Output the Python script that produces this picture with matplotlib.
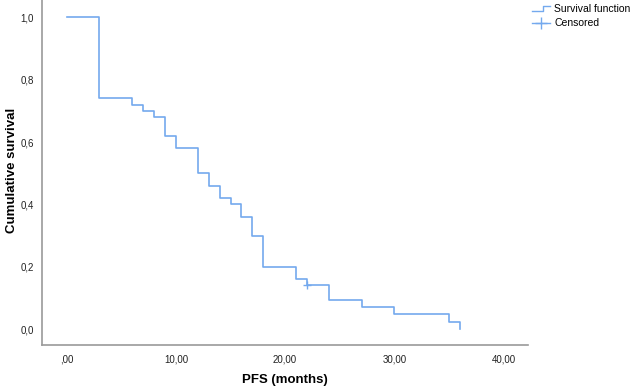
import matplotlib
matplotlib.use("Agg")
import matplotlib.pyplot as plt
from matplotlib.lines import Line2D
from matplotlib.legend_handler import HandlerBase

# Data
times = [0, 3, 6, 7, 8, 9, 10, 12, 13, 14, 15, 16, 17, 18, 21, 22, 24, 27, 30, 35, 36]
surv = [1.0, 0.74, 0.72, 0.70, 0.68, 0.62, 0.58, 0.50, 0.46, 0.42, 0.40, 0.36,
        0.30, 0.20, 0.16, 0.14, 0.093, 0.07, 0.047, 0.023, 0.0]
cens_times = [22]
cens_surv = [0.14]
xticks = [0, 10, 20, 30, 40]
xticklabels = [",00", "10,00", "20,00", "30,00", "40,00"]
yticks = [0.0, 0.2, 0.4, 0.6, 0.8, 1.0]
yticklabels = ["0,0", "0,2", "0,4", "0,6", "0,8", "1,0"]

plt.rcParams['font.family'] = ['Liberation Sans', 'DejaVu Sans']
color = '#74a9ee'
gray = '#9a9a9a'

fig = plt.figure(figsize=(6.32, 3.89), dpi=100)
ax = fig.add_axes([42/632, 44/389, (528-42)/632, (345-0)/389])

ax.step(times, surv, where='post', color=color, lw=1.2)
ax.plot(cens_times, cens_surv, linestyle='none', marker='+', color=color, ms=6, mew=1.0)

ax.set_xlim(-2.26, 42.24)
ax.set_ylim(-0.051, 1.056)
ax.set_xticks(xticks)
ax.set_xticklabels(xticklabels, fontsize=7)
ax.set_yticks(yticks)
ax.set_yticklabels(yticklabels, fontsize=7)
ax.tick_params(length=0, colors='#222222')
ax.tick_params(axis='x', pad=7)
ax.tick_params(axis='y', pad=6)
for s in ['top', 'right']:
    ax.spines[s].set_visible(False)
for s in ['left', 'bottom']:
    ax.spines[s].set_color(gray)
    ax.spines[s].set_linewidth(1.2)

ax.set_xlabel("PFS (months)", fontsize=9.5, fontweight='bold')
ax.set_ylabel("Cumulative survival", fontsize=9.5, fontweight='bold')
ax.xaxis.set_label_coords(0.5, -0.10)
ax.yaxis.set_label_coords(-0.062, 0.507)
ax.xaxis.label.set_va('center')
ax.yaxis.label.set_va('center')


class StepHandler(HandlerBase):
    def create_artists(self, legend, orig_handle, xdescent, ydescent, width, height, fontsize, trans):
        x0, x1 = -xdescent, -xdescent + width
        yl, yh = -ydescent + height * 0.2, -ydescent + height * 0.8
        xm = x0 + width * 0.6
        l = Line2D([x0, xm, xm, x1], [yl, yl, yh, yh], color=color, lw=1.0, transform=trans)
        return [l]


h1 = Line2D([], [], color=color)
h2 = Line2D([], [], color=color, marker='+', ms=8, lw=1.0)
leg = fig.legend([h1, h2], ["Survival function", "Censored"],
                 handler_map={h1: StepHandler()},
                 loc='upper left', bbox_to_anchor=(532/632, 1 - 4/389),
                 frameon=False, fontsize=7.5, handlelength=1.75, handletextpad=0.4,
                 labelspacing=0.4, borderpad=0.0, borderaxespad=0.0)

fig.savefig("out.png", dpi=100)
